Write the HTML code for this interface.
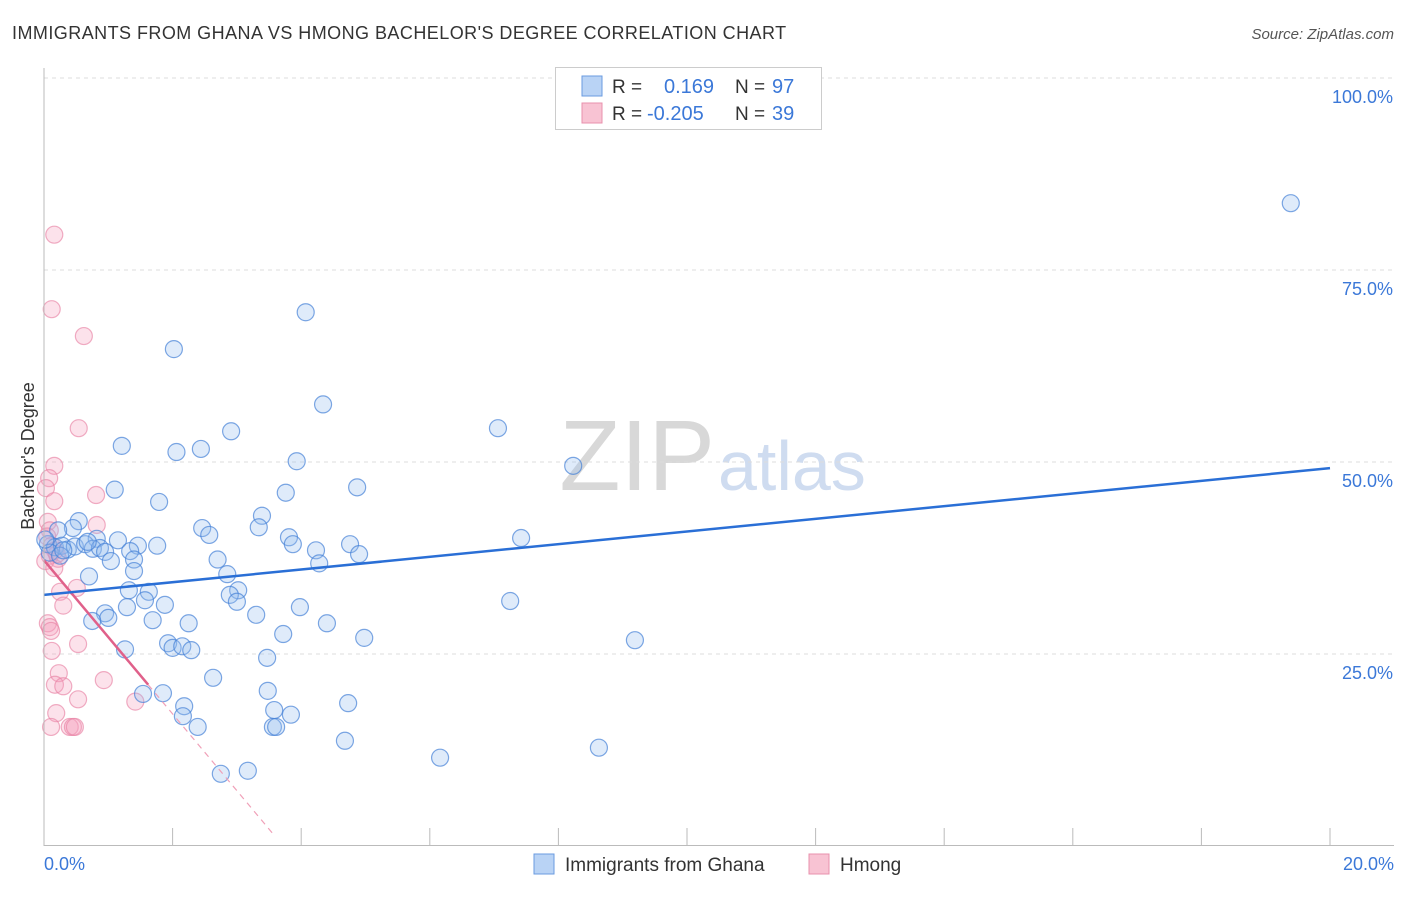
<!DOCTYPE html>
<html><head><meta charset="utf-8"><style>
body{margin:0;background:#fff;font-family:"Liberation Sans",sans-serif;}
svg text{font-family:"Liberation Sans",sans-serif;}
</style></head><body>
<svg width="1406" height="892" xmlns="http://www.w3.org/2000/svg">
<text x="12" y="39" font-size="18" fill="#333" letter-spacing="0.45">IMMIGRANTS FROM GHANA VS HMONG BACHELOR'S DEGREE CORRELATION CHART</text>
<text x="1394" y="39" font-size="15" fill="#555" text-anchor="end" font-style="italic">Source: ZipAtlas.com</text>
<text x="34" y="456" font-size="18" fill="#333" text-anchor="middle" transform="rotate(-90 34 456)">Bachelor's Degree</text>
<text x="715" y="490" font-size="100" fill="#d8d8d8" text-anchor="end" font-family="Liberation Serif">ZIP</text>
<text x="718" y="490" font-size="70" fill="#cfdcf0">atlas</text>
<g id="grid"></g><g id="pts"></g><g id="trend"></g>
<line x1="44" y1="68" x2="44" y2="846" stroke="#bbb"/>
<line x1="44" y1="845.5" x2="1394" y2="845.5" stroke="#bbb"/>
<text x="44" y="870" font-size="18" fill="#3b78d8">0.0%</text>
<text x="1394" y="870" font-size="18" fill="#3b78d8" text-anchor="end">20.0%</text>
<g>
<rect x="555.5" y="67.5" width="266" height="62" fill="#fff" stroke="#ccc"/>
<rect x="582" y="76" width="20" height="20" fill="#b9d3f5" stroke="#6a9be0"/>
<rect x="582" y="103" width="20" height="20" fill="#f8c3d3" stroke="#e890ac"/>
<text x="612" y="93" font-size="19" fill="#333">R = </text><text x="664" y="93" font-size="20" fill="#3b78d8">0.169</text>
<text x="735" y="93" font-size="19" fill="#333">N = </text><text x="772" y="93" font-size="20" fill="#3b78d8">97</text>
<text x="612" y="120" font-size="19" fill="#333">R = </text><text x="647" y="120" font-size="20" fill="#3b78d8">-0.205</text>
<text x="735" y="120" font-size="19" fill="#333">N = </text><text x="772" y="120" font-size="20" fill="#3b78d8">39</text>
</g>
<g>
<rect x="534" y="854" width="20" height="20" fill="#b9d3f5" stroke="#6a9be0"/>
<text x="565" y="871" font-size="19" fill="#333">Immigrants from Ghana</text>
<rect x="809" y="854" width="20" height="20" fill="#f8c3d3" stroke="#e890ac"/>
<text x="840" y="871" font-size="19" fill="#333">Hmong</text>
</g>
</svg>
<script>
const yTicks=[25,50,75,100];
const yTickLabels=["25.0%","50.0%","75.0%","100.0%"];
const xTicks=[0,2,4,6,8,10,12,14,16,18,20];
const ghanaX=[19.39,4.07,2.02,4.34,7.06,2.91,1.21,2.44,2.06,3.93,8.23,4.87,1.10,3.76,1.79,3.39,0.54,2.46,3.34,0.45,0.22,2.57,0.82,3.81,7.42,1.15,4.76,3.87,1.76,1.46,0.06,0.17,0.28,0.37,0.48,0.64,0.76,0.87,0.09,0.25,0.02,0.68,0.95,1.34,4.23,4.90,2.70,1.40,1.04,4.28,1.40,2.85,0.70,1.32,3.02,1.63,2.89,1.57,3.00,1.88,1.29,3.98,0.95,7.25,1.00,0.75,1.69,3.30,2.25,4.40,3.72,4.98,9.19,1.93,2.00,2.15,2.29,1.26,3.47,2.63,3.48,1.54,1.85,4.73,2.18,3.58,2.16,3.84,3.56,3.61,2.39,4.68,8.63,6.16,2.75,3.17,0.30];
const ghanaY=[83.7,69.5,64.7,57.5,54.4,54.0,52.1,51.7,51.3,50.1,49.5,46.7,46.4,46.0,44.8,43.0,42.3,41.4,41.5,41.4,41.1,40.5,40.0,40.2,40.1,39.8,39.3,39.3,39.1,39.1,39.3,38.9,39.1,38.6,39.0,39.3,38.7,38.8,38.2,37.8,39.9,39.6,38.3,38.4,38.5,38.0,37.3,37.3,37.1,36.8,35.8,35.4,35.1,33.3,33.3,33.1,32.7,32.0,31.8,31.4,31.1,31.1,30.3,31.9,29.7,29.3,29.4,30.1,29.0,29.0,27.6,27.1,26.8,26.4,25.8,26.0,25.5,25.6,24.5,21.9,20.2,19.8,19.9,18.6,18.2,17.7,16.9,17.1,15.5,15.5,15.5,13.7,12.8,11.5,9.4,9.8,38.5];
const hmongX=[0.16,0.12,0.62,0.54,0.16,0.08,0.03,0.81,0.16,0.82,0.06,0.09,0.05,0.12,0.17,0.09,0.22,0.02,0.16,0.51,0.25,0.30,0.06,0.09,0.11,0.53,0.12,0.23,0.17,0.30,0.93,0.53,1.42,0.19,0.11,0.40,0.45,0.48,0.20];
const hmongY=[79.6,69.9,66.4,54.4,49.5,47.9,46.6,45.7,44.9,41.8,42.2,41.1,40.3,39.1,38.5,37.8,37.4,37.1,36.2,33.6,33.1,31.3,29.0,28.5,28.0,26.3,25.4,22.5,21.0,20.8,21.6,19.1,18.8,17.3,15.5,15.5,15.5,15.5,38.0];
const ghanaTrend=[32.7,49.2];
const hmongTrendStart=37.2, hmongTrendSlope=-10.0, hmongSolidEnd=1.62, hmongDashEnd=3.59;
const NS="http://www.w3.org/2000/svg";
const sx=v=>44+v/20*1286, sy=v=>846-v/100*768;
function mk(t,a,p){const e=document.createElementNS(NS,t);for(const k in a)e.setAttribute(k,a[k]);p.appendChild(e);return e;}
const grid=document.getElementById('grid');
yTicks.forEach((v,i)=>{
 const l=mk('line',{x1:44,x2:1394,y1:sy(v),y2:sy(v),stroke:'#ddd','stroke-dasharray':'4,4'},grid);
 
 
 const t=mk('text',{x:1393,y:sy(v)+25,'font-size':18,fill:'#3b78d8','text-anchor':'end'},grid);
 t.textContent=yTickLabels[i];
 
 
});
xTicks.forEach(v=>{
 const l=mk('line',{x1:sx(v),x2:sx(v),y1:828,y2:846,stroke:'#bbb'},grid);
 
 
});
const pts=document.getElementById('pts');
hmongX.forEach((x,i)=>{
 const c=mk('circle',{cx:sx(x),cy:sy(hmongY[i]),r:8.5,fill:'rgba(244,160,188,0.3)',stroke:'rgba(232,130,165,0.65)','stroke-width':1.2},pts);
 
 
});
ghanaX.forEach((x,i)=>{
 const c=mk('circle',{cx:sx(x),cy:sy(ghanaY[i]),r:8.5,fill:'rgba(150,190,240,0.3)',stroke:'rgba(70,130,215,0.7)','stroke-width':1.2},pts);
 
 
});
const tr=document.getElementById('trend');
const hy=x=>hmongTrendStart+hmongTrendSlope*x;
const d1=mk('line',{x1:sx(hmongSolidEnd),y1:sy(hy(hmongSolidEnd)),x2:sx(hmongDashEnd),y2:sy(hy(hmongDashEnd)),stroke:'#f0a0b8','stroke-width':1.2,'stroke-dasharray':'6,5'},tr);


const s1=mk('line',{x1:sx(0),y1:sy(hy(0)),x2:sx(hmongSolidEnd),y2:sy(hy(hmongSolidEnd)),stroke:'#e0608a','stroke-width':2.5},tr);


const b1=mk('line',{x1:sx(0),y1:sy(ghanaTrend[0]),x2:sx(20),y2:sy(ghanaTrend[1]),stroke:'#2a6fd6','stroke-width':2.5},tr);


</script>
</body></html>
